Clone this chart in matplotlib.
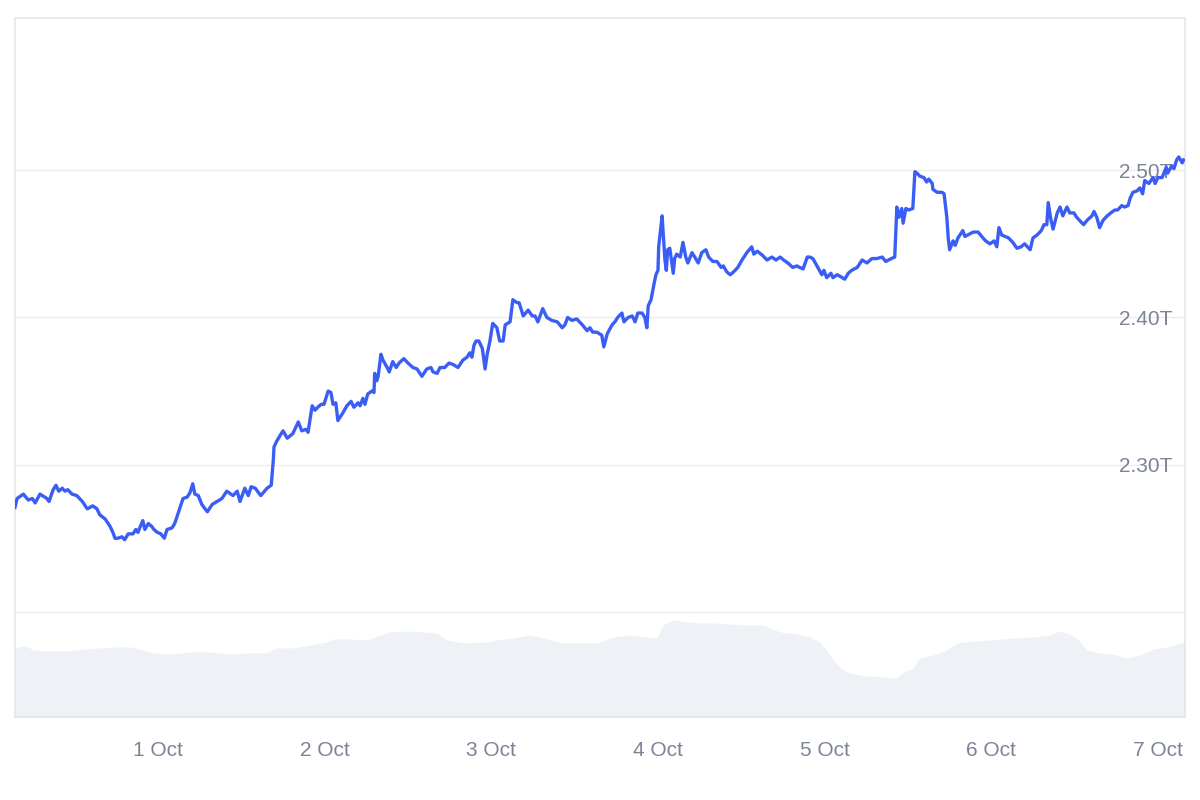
import matplotlib
matplotlib.use("Agg")
import matplotlib.pyplot as plt

plt.rcParams['font.family'] = ['Liberation Sans', 'DejaVu Sans']

# horas contadas a partir de 30 Sep 00:00, market cap em bilhões de USD
horas = [3.4, 3.7, 4.6, 5.3, 5.9, 6.3, 7.0, 8.0, 8.3, 8.9, 9.3, 9.7, 10.2, 10.6, 11.0, 11.6,
         12.3, 13.1, 13.8, 14.6, 15.2, 15.6, 16.4, 17.1, 17.5, 17.8, 18.2, 18.8, 19.2, 19.7,
         20.4, 20.8, 21.1, 21.8, 22.1, 22.6, 23.1, 23.4, 23.9, 24.4, 24.9, 25.3, 26.0, 26.4,
         26.9, 27.6, 28.2, 28.6, 29.0, 29.3, 29.8, 30.3, 31.1, 31.8, 32.5, 33.2, 33.9, 34.8,
         35.4, 35.8, 36.5, 37.0, 37.4, 38.0, 38.8, 39.7, 40.3, 40.6, 40.7, 41.1, 41.6, 42.0,
         42.6, 43.4, 44.2, 44.7, 45.3, 45.6, 46.2, 46.6, 47.0, 47.5, 47.9, 48.5, 48.9, 49.2,
         49.6, 49.9, 50.6, 51.2, 51.8, 52.2, 52.8, 53.1, 53.5, 53.8, 54.2, 54.8, 55.1, 55.2,
         55.5, 55.7, 56.1, 56.4, 57.0, 57.3, 57.8, 58.3, 58.7, 59.4, 60.0, 60.7, 61.3, 62.0,
         62.7, 63.3, 63.6, 64.2, 64.6, 65.3, 65.9, 66.5, 67.2, 67.9, 68.5, 68.9, 69.2, 69.5,
         69.8, 70.2, 70.7, 71.1, 71.4, 71.8, 72.2, 72.8, 73.2, 73.7, 74.0, 74.7, 75.1, 75.7,
         76.0, 76.6, 77.3, 77.9, 78.3, 78.7, 79.4, 80.0, 80.7, 81.5, 82.2, 82.6, 83.0, 83.6,
         84.3, 85.1, 85.8, 86.2, 86.6, 87.2, 87.9, 88.2, 88.7, 89.4, 89.8, 90.2, 90.8, 91.1,
         91.7, 92.3, 92.7, 93.1, 93.7, 94.1, 94.4, 94.6, 95.0, 95.4, 95.7, 96.0, 96.1, 96.6,
         96.7, 97.0, 97.2, 97.4, 97.7, 98.2, 98.4, 98.7, 99.2, 99.6, 100.0, 100.3, 100.9, 101.3,
         101.8, 102.3, 102.9, 103.3, 103.9, 104.5, 105.1, 105.4, 105.9, 106.4, 106.9, 107.5,
         108.1, 108.8, 109.5, 109.8, 110.3, 111.1, 111.7, 112.4, 113.0, 113.6, 114.1, 114.7,
         115.4, 116.0, 116.4, 116.9, 117.5, 117.9, 118.3, 118.9, 119.6, 119.9, 120.3, 120.9,
         121.2, 121.8, 122.2, 122.9, 123.4, 123.9, 124.7, 125.4, 126.1, 126.8, 127.5, 128.3,
         128.8, 129.6, 130.1, 130.4, 130.7, 131.1, 131.3, 131.7, 132.1, 132.7, 133.0, 133.3,
         133.7, 134.3, 134.7, 135.0, 135.5, 135.6, 136.2, 136.9, 137.2, 137.6, 137.8, 138.0,
         138.5, 138.8, 139.2, 139.9, 140.2, 140.6, 141.4, 142.1, 142.8, 143.2, 143.8, 144.4,
         144.8, 145.1, 145.5, 146.0, 146.5, 147.1, 147.7, 148.3, 148.8, 149.6, 150.0, 150.6,
         151.2, 151.6, 152.0, 152.2, 152.6, 152.9, 153.5, 153.9, 154.3, 154.9, 155.3, 155.9,
         156.3, 157.1, 157.3, 157.8, 158.5, 158.8, 159.2, 159.6, 160.1, 160.7, 161.2, 161.8,
         162.2, 162.8, 163.2, 163.7, 164.0, 164.4, 165.0, 165.4, 165.8, 166.1, 166.7, 167.3,
         167.6, 168.0, 168.6, 169.2, 169.4, 170.0, 170.3, 170.7, 171.0, 171.5, 171.7]

market_cap = [2271, 2277, 2280, 2276, 2277, 2274, 2280, 2277, 2275, 2283, 2286, 2282, 2284, 2282, 2283, 2280,
              2279, 2275, 2270, 2272, 2270, 2266, 2263, 2258, 2254, 2250, 2250, 2251, 2249, 2253,
              2253, 2256, 2254, 2262, 2256, 2260, 2258, 2256, 2254, 2253, 2250, 2256, 2257, 2260,
              2267, 2277, 2278, 2281, 2287, 2280, 2279, 2273, 2268, 2273, 2275, 2277, 2282, 2279,
              2282, 2275, 2284, 2279, 2285, 2284, 2279, 2284, 2286, 2303, 2312, 2316, 2320, 2323,
              2318, 2321, 2329, 2323, 2324, 2322, 2340, 2337, 2339, 2341, 2341, 2350, 2349, 2341,
              2342, 2330, 2335, 2340, 2343, 2339, 2342, 2340, 2345, 2341, 2348, 2350, 2349, 2362,
              2357, 2360, 2375, 2371, 2366, 2363, 2370, 2366, 2369, 2372, 2369, 2366, 2365, 2360,
              2365, 2366, 2363, 2362, 2366, 2366, 2369, 2368, 2366, 2371, 2373, 2376, 2373, 2381,
              2384, 2384, 2379, 2365, 2375, 2384, 2396, 2393, 2384, 2384, 2395, 2397, 2412, 2410,
              2410, 2401, 2405, 2401, 2401, 2397, 2406, 2400, 2398, 2397, 2393, 2395, 2400, 2398,
              2399, 2395, 2391, 2393, 2390, 2390, 2388, 2380, 2389, 2395, 2397, 2400, 2403, 2397,
              2400, 2401, 2397, 2403, 2403, 2400, 2393, 2408, 2412, 2422, 2429, 2432, 2448, 2469,
              2461, 2439, 2432, 2446, 2447, 2430, 2440, 2443, 2441, 2451, 2441, 2437, 2444, 2441,
              2437, 2444, 2446, 2441, 2438, 2438, 2434, 2435, 2431, 2429, 2431, 2434,
              2439, 2444, 2448, 2443, 2445, 2442, 2439, 2441, 2439, 2441, 2439, 2437,
              2434, 2435, 2434, 2433, 2441, 2441, 2440, 2435, 2429, 2432, 2427, 2430,
              2427, 2429, 2428, 2426, 2430, 2432, 2434, 2439, 2437, 2440, 2440, 2441,
              2438, 2440, 2441, 2475, 2468, 2474, 2464, 2474, 2473, 2474, 2499, 2498,
              2496, 2495, 2492, 2494, 2491, 2487, 2485, 2485, 2484, 2468, 2454, 2446,
              2452, 2449, 2454, 2459, 2455, 2456, 2458, 2458, 2454, 2452, 2450, 2452,
              2448, 2461, 2456, 2455, 2454, 2451, 2447, 2448, 2450, 2446, 2454, 2456,
              2459, 2463, 2463, 2478, 2466, 2460, 2471, 2475, 2469, 2475, 2471, 2471,
              2468, 2464, 2463, 2466, 2469, 2472, 2468, 2461, 2466, 2469, 2471, 2473,
              2473, 2476, 2475, 2476, 2481, 2485, 2486, 2488, 2484, 2493, 2491, 2495,
              2491, 2495, 2495, 2502, 2498, 2503, 2501, 2507, 2509, 2505, 2507]

# volume (bilhões de USD)
horas_vol = [3.4, 3.8, 5.1, 6.0, 8.4, 10.9, 13.2, 15.6, 18.1, 20.0, 21.4, 23.3, 25.3, 27.6, 30.0,
             32.5, 34.8, 37.2, 39.7, 41.1, 43.4, 45.9, 48.3, 49.2, 51.6, 54.1, 56.0, 57.4, 59.9,
             64.2, 65.6, 67.9, 71.4, 72.8, 75.1, 77.6, 80.0, 82.3, 84.8, 87.2, 89.5, 92.0, 94.4,
             95.9, 96.7, 98.2, 100.2, 102.0, 103.9, 106.4, 108.8, 111.1, 113.6, 116.0, 117.9,
             119.3, 120.3, 121.2, 122.7, 124.1, 126.1, 128.4, 130.4, 131.3, 132.7, 133.7, 135.6,
             137.6, 139.1, 141.4, 144.2, 147.1, 150.0, 152.5, 153.9, 154.9, 156.3, 157.8, 159.6,
             162.1, 163.5, 165.4, 167.3, 169.3, 171.2, 171.9]
volume = [69, 70, 71, 67, 66, 66, 68, 69, 70, 70, 68, 64, 63, 64, 66,
          64, 63, 64, 64, 69, 69, 72, 75, 78, 78, 77, 82, 85, 86,
          84, 77, 74, 75, 77, 79, 82, 78, 74, 74, 74, 80, 82, 80,
          79, 92, 97, 95, 94, 94, 93, 92, 92, 85, 83, 80,
          75, 67, 57, 47, 43, 41, 40, 39, 45, 49, 59, 62,
          67, 74, 76, 77, 79, 80, 82, 86, 84, 79, 67, 64,
          62, 59, 62, 68, 70, 74, 75]

dias = [24, 48, 72, 96, 120, 144, 168]
dias_labels = ['1 Oct', '2 Oct', '3 Oct', '4 Oct', '5 Oct', '6 Oct', '7 Oct']
y_ticks = [2.2, 2.3, 2.4, 2.5]
y_labels = ['', '2.30T', '2.40T', '2.50T']

cor_texto = '#7b8497'
cor_borda = '#e4e6ea'

fig = plt.figure(figsize=(12, 8), dpi=100)
ax = fig.add_axes([15 / 1200, 83 / 800, 1170 / 1200, 699 / 800])
ax2 = ax.twinx()

# volume no fundo
ax2.fill_between(horas_vol, volume, 0, color='#eef1f5', linewidth=0)
ax2.set_ylim(0, 699)
ax2.set_yticks([])
for s in ax2.spines.values():
    s.set_visible(False)

ax.set_zorder(ax2.get_zorder() + 1)
ax.patch.set_visible(False)

ax.plot(horas, [v / 1000 for v in market_cap], color='#3a5ef5', linewidth=2.4,
        solid_joinstyle='round', zorder=3)

ax.set_xlim(3.4, 171.9)
ax.set_ylim(2.1286, 2.6034)

ax.set_xticks(dias)
ax.set_xticklabels(dias_labels)
ax.yaxis.tick_right()
ax.set_yticks(y_ticks)
ax.set_yticklabels(y_labels)
ax.grid(axis='y', color='#ececec', linewidth=1)
ax.tick_params(axis='x', length=0, pad=17, labelsize=15, labelcolor=cor_texto)
ax.tick_params(axis='y', length=0, pad=-9, labelsize=15, labelcolor=cor_texto)
for lab in ax.get_yticklabels():
    lab.set_horizontalalignment('right')

for s in ax.spines.values():
    s.set_color(cor_borda)
    s.set_linewidth(1.2)

fig.savefig('out.png', dpi=100, facecolor='white')
